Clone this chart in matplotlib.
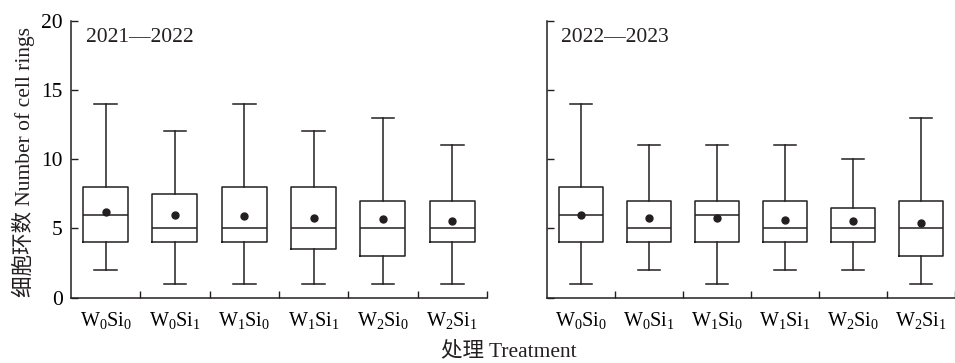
import matplotlib
matplotlib.use("Agg")
import matplotlib.pyplot as plt

plt.rcParams['font.family'] = ['Liberation Serif', 'Noto Sans CJK SC']
plt.rcParams['mathtext.fontset'] = 'custom'
plt.rcParams['mathtext.rm'] = 'Liberation Serif'
plt.rcParams['mathtext.it'] = 'Liberation Serif'

treatments = [r'W$_0$Si$_0$', r'W$_0$Si$_1$', r'W$_1$Si$_0$',
              r'W$_1$Si$_1$', r'W$_2$Si$_0$', r'W$_2$Si$_1$']

# 2021-2022: whisker low, Q1, median, Q3, whisker high, mean
low_2122 = [2, 1, 1, 1, 1, 1]
q1_2122 = [4, 4, 4, 3.5, 3, 4]
med_2122 = [6, 5, 5, 5, 5, 5]
q3_2122 = [8, 7.5, 8, 8, 7, 7]
high_2122 = [14, 12, 14, 12, 13, 11]
mean_2122 = [6.2, 5.97, 5.9, 5.78, 5.68, 5.54]

# 2022-2023
low_2223 = [1, 2, 1, 2, 2, 1]
q1_2223 = [4, 4, 4, 4, 4, 3]
med_2223 = [6, 5, 6, 5, 5, 5]
q3_2223 = [8, 7, 7, 7, 6.5, 7]
high_2223 = [14, 11, 11, 11, 10, 13]
mean_2223 = [6.0, 5.73, 5.73, 5.6, 5.54, 5.42]

INK = '#231f20'


def make_stats(low, q1, med, q3, high, mean):
    return [dict(whislo=a, q1=b, med=c, q3=d, whishi=e, mean=f, fliers=[])
            for a, b, c, d, e, f in zip(low, q1, med, q3, high, mean)]


def draw_panel(ax, stats, label, xmax):
    line = dict(color=INK, linewidth=1.1)
    ax.bxp(stats, positions=range(len(stats)), widths=0.65, showmeans=True,
           showfliers=False, boxprops=line, whiskerprops=line, capprops=line,
           medianprops=line,
           meanprops=dict(marker='o', markerfacecolor=INK, markeredgecolor=INK,
                          markersize=5))
    ax.set_xlim(-0.5, xmax)
    ax.set_ylim(0, 20)
    ax.set_yticks([0, 5, 10, 15, 20])
    ax.set_xticks(range(len(stats)))
    ax.set_xticklabels(treatments, fontsize=14.5)
    ax.set_xticks([i + 0.5 for i in range(len(stats))], minor=True)
    ax.tick_params(axis='x', which='major', length=0, pad=9)
    ax.tick_params(axis='x', which='minor', direction='in', length=5,
                   width=1.0, color=INK)
    ax.tick_params(axis='y', direction='in', length=5, width=1.0, color=INK,
                   labelsize=15.5, pad=6)
    for s in ['top', 'right']:
        ax.spines[s].set_visible(False)
    for s in ['left', 'bottom']:
        ax.spines[s].set_linewidth(1.1)
        ax.spines[s].set_color(INK)
    ax.text(0.036, 0.924, label, transform=ax.transAxes, fontsize=15.5,
            va='baseline', ha='left', color=INK)


fig = plt.figure(figsize=(9.55, 3.63), dpi=100)
ax1 = fig.add_axes([0.0743, 0.180, 0.4356, 0.763])
ax2 = fig.add_axes([0.5725, 0.180, 0.4275, 0.763])

draw_panel(ax1, make_stats(low_2122, q1_2122, med_2122, q3_2122, high_2122, mean_2122),
           '2021—2022', 5.5)
draw_panel(ax2, make_stats(low_2223, q1_2223, med_2223, q3_2223, high_2223, mean_2223),
           '2022—2023', 5.39)
ax2.set_yticklabels([])

fig.text(0.024, 0.555, '细胞环数 Number of cell rings', rotation=90,
         ha='center', va='center', fontsize=15.5, color=INK)
fig.text(0.533, 0.033, '处理 Treatment', ha='center', va='center',
         fontsize=15.5, color=INK)

fig.savefig('out.png', dpi=100)
